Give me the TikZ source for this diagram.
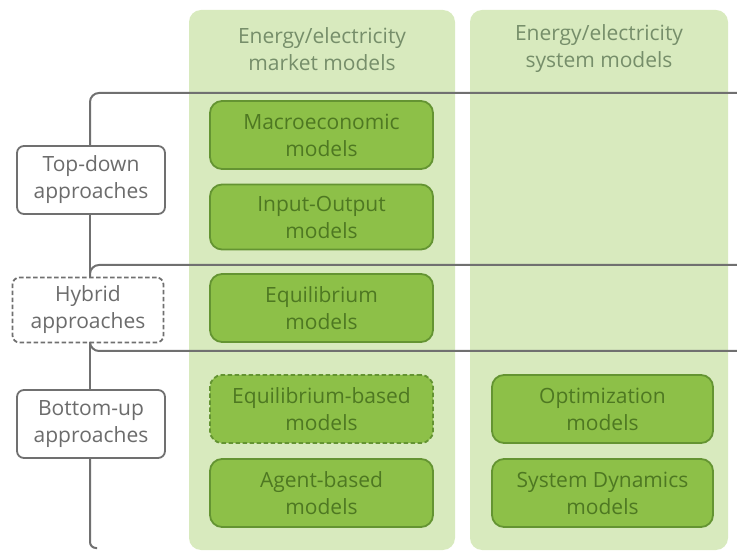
\documentclass[tikz,border=0pt]{standalone}
\usepackage{fontspec}
\setmainfont{Open Sans}
\usepackage{tikz}
\definecolor{panelgreen}{RGB}{216,234,190}
\definecolor{boxgreen}{RGB}{141,192,72}
\definecolor{boxedge}{RGB}{100,148,50}
\definecolor{boxtext}{RGB}{78,120,34}
\definecolor{headtext}{RGB}{118,142,106}
\definecolor{labeltext}{RGB}{108,108,108}
\definecolor{bracketgray}{RGB}{112,112,112}
\tikzset{
  panel/.style={fill=panelgreen, draw=none, rounded corners=12pt, minimum width=#1, minimum height=540pt},
  header/.style={align=center, text=headtext, font=\fontsize{21}{27}\selectfont},
  model/.style={fill=boxgreen, draw=boxedge, line width=1.8pt, rounded corners=12pt, align=center,
    text=boxtext, font=\fontsize{21}{27}\selectfont, minimum width=#1, minimum height=68pt, inner sep=0pt},
  approach/.style={fill=white, draw=bracketgray, line width=1.8pt, rounded corners=7pt, align=center,
    text=labeltext, font=\fontsize{21}{27}\selectfont, minimum width=148pt, minimum height=68pt, inner sep=0pt},
  dashbox/.style={dash pattern=on 4.5pt off 2.5pt},
  bracket/.style={draw=bracketgray, line width=2pt, rounded corners=9pt}
}
\begin{document}
\begin{tikzpicture}[x=1pt,y=-1pt]
\useasboundingbox (0,0) rectangle (737,553);
% columns
\node[panel=266pt] (market) at (322,280) {};
\node[panel=258pt] (system) at (599,280) {};
\node[header] (markethead) at (322,49) {Energy/electricity\\market models};
\node[header] (systemhead) at (599,49) {Energy/electricity\\system models};
% model boxes
\node[model=223pt] (macro) at (321.5,135) {Macroeconomic\\models};
\node[model=223pt, minimum height=65pt] (io) at (321.5,217) {Input-Output\\models};
\node[model=223pt] (equil) at (321.5,308) {Equilibrium\\models};
\node[model=223pt, dashbox] (eqbased) at (321.5,409) {Equilibrium-based\\models};
\node[model=223pt] (agent) at (321.5,493) {Agent-based\\models};
\node[model=221pt] (optim) at (602.5,409) {Optimization\\models};
\node[model=221pt] (sysdyn) at (602.5,493) {System Dynamics\\models};
% approach labels
\node[approach] (topdown) at (91,180) {Top-down\\approaches};
\node[approach, dashbox, minimum width=151pt, minimum height=65pt] (hybrid) at (88,310) {Hybrid\\approaches};
\node[approach] (bottomup) at (91,424) {Bottom-up\\approaches};
% bracket lines
\coordinate (edge1) at (737,93);
\coordinate (edge2) at (737,265);
\coordinate (edge3) at (737,351);
\coordinate (foot) at (97,548);
\draw[bracket] (topdown.north -| 90,0) |- (edge1);
\draw[bracket] (topdown.south -| 90,0) -- (hybrid.north -| 90,0);
\draw[bracket] (hybrid.north -| 90,0) |- (edge2);
\draw[bracket] (hybrid.south -| 90,0) |- (edge3);
\draw[bracket] (hybrid.south -| 90,0) -- (bottomup.north -| 90,0);
\draw[bracket, rounded corners=6pt] (bottomup.south -| 90,0) |- (foot);
\end{tikzpicture}
\end{document}
